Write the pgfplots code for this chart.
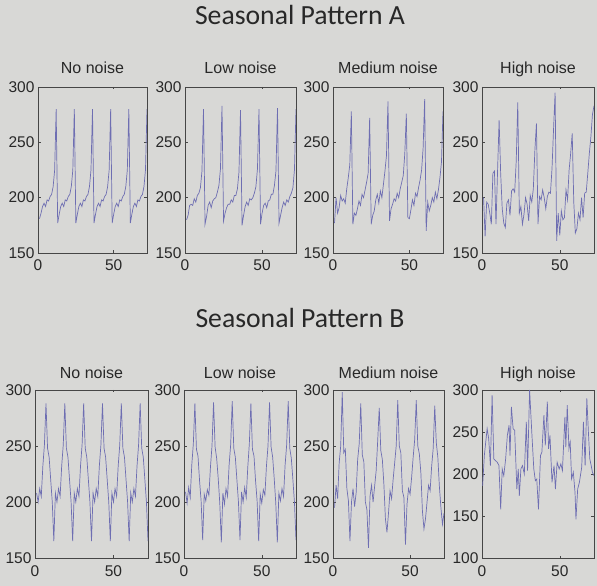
\documentclass[border=0pt]{standalone}
\usepackage{pgfplots}
\pgfplotsset{compat=1.18}
\usepackage{fontspec}
\setmainfont{Liberation Sans}
\newfontfamily\titlefont{Carlito}
\definecolor{bg}{RGB}{216,216,214}
\definecolor{ln}{RGB}{110,110,178}
\definecolor{fr}{RGB}{70,70,70}
\definecolor{tx}{RGB}{40,40,40}
\pgfplotsset{
  every axis title shift=0pt,
  panel/.style={
    scale only axis, width=110bp, height=166bp,
    xmin=0, xmax=72, ymin=150, ymax=300,
    xtick={0,50}, ytick={150,200,250,300},
    tick align=inside, xtick pos=both, ytick pos=both,
    xticklabel pos=lower, yticklabel pos=left,
    major tick length=2.5bp,
    axis line style={fr, line width=0.6bp},
    every tick/.style={fr, line width=0.5bp},
    tick label style={font=\fontsize{15.5bp}{17bp}\selectfont, text=tx},
    /pgf/number format/assume math mode=true,
    title style={font=\fontsize{16bp}{18bp}\selectfont, text=tx, at={(0.5,1)}, anchor=base, yshift=13.5bp},
    xticklabel style={yshift=-3bp},
    anchor=south west,
  },
  brow/.style={height=168bp, title style={yshift=-2bp}, xticklabel style={yshift=-1bp}},
  ser/.style={color=ln, line width=0.7bp, mark=none},
  /pgfplots/table/tab/.style={x expr=\coordindex+1, y index=0, header=false, row sep=\\},
}
\begin{document}
\begin{tikzpicture}
\fill[bg] (0,0) rectangle (597bp,586bp);
\node[font=\titlefont\fontsize{27.7bp}{30bp}\selectfont, text=tx, anchor=base] at (300bp,561bp) {Seasonal Pattern A};
\node[font=\titlefont\fontsize{27.7bp}{30bp}\selectfont, text=tx, anchor=base] at (300bp,258bp) {Seasonal Pattern B};

% ---------- Pattern A ----------
\begin{axis}[panel, at={(38bp,333bp)}, width=109bp, title={No noise}]
\addplot[ser] table[tab] {
181\\186\\192\\195\\192\\198\\197\\201\\203\\210\\225\\280\\
177\\185\\192\\195\\192\\198\\197\\201\\203\\210\\225\\280\\
177\\185\\192\\195\\192\\198\\197\\201\\203\\210\\225\\280\\
177\\185\\192\\195\\192\\198\\197\\201\\203\\210\\225\\280\\
177\\185\\192\\195\\192\\198\\197\\201\\203\\210\\225\\280\\
177\\185\\192\\195\\192\\198\\197\\201\\203\\210\\225\\280\\
};
\end{axis}

\begin{axis}[panel, at={(185bp,333bp)}, width=111bp, title={Low noise}]
\addplot[ser] table[tab] {
180\\184\\193\\194\\193\\199\\196\\202\\204\\209\\224\\280\\
176\\183\\193\\196\\191\\197\\199\\200\\205\\211\\226\\283\\
179\\186\\191\\194\\194\\198\\196\\202\\202\\208\\223\\279\\
175\\184\\192\\196\\193\\199\\198\\200\\204\\210\\226\\280\\
176\\186\\193\\195\\191\\197\\198\\203\\203\\211\\224\\281\\
177\\184\\191\\196\\193\\198\\196\\201\\204\\209\\225\\280\\
};
\end{axis}

\begin{axis}[panel, at={(333bp,333bp)}, width=110bp, title={Medium noise}]
\addplot[ser] table[tab] {
177\\200\\186\\191\\202\\197\\199\\195\\208\\218\\230\\278\\
176\\186\\184\\190\\197\\193\\203\\200\\207\\214\\222\\272\\
176\\184\\188\\198\\203\\195\\206\\200\\212\\224\\238\\287\\
179\\190\\194\\199\\197\\204\\200\\208\\214\\220\\240\\276\\
182\\181\\189\\198\\193\\204\\201\\209\\216\\225\\245\\289\\
170\\196\\188\\193\\200\\196\\205\\199\\207\\218\\232\\278\\
};
\end{axis}

\begin{axis}[panel, at={(482bp,333bp)}, width=112bp, title={High noise}]
\addplot[ser] table[tab] {
200\\165\\196\\194\\186\\176\\222\\224\\176\\224\\270\\222\\
190\\177\\173\\195\\198\\184\\206\\208\\205\\233\\286\\186\\
192\\176\\185\\200\\194\\179\\202\\196\\208\\243\\267\\176\\
201\\198\\207\\200\\190\\201\\205\\204\\226\\262\\295\\161\\
186\\166\\188\\180\\182\\207\\198\\225\\240\\258\\196\\168\\
172\\186\\180\\200\\182\\204\\205\\222\\240\\255\\275\\283\\
};
\end{axis}

% ---------- Pattern B ----------
\begin{axis}[panel, brow, at={(35bp,28bp)}, width=113bp, title={No noise}]
\addplot[ser] table[tab] {
208\\200\\212\\205\\232\\251\\288\\248\\240\\220\\200\\165\\
208\\200\\212\\205\\232\\251\\288\\248\\240\\220\\200\\165\\
208\\200\\212\\205\\232\\251\\288\\248\\240\\220\\200\\165\\
208\\200\\212\\205\\232\\251\\288\\248\\240\\220\\200\\165\\
208\\200\\212\\205\\232\\251\\288\\248\\240\\220\\200\\165\\
208\\200\\212\\205\\232\\251\\288\\248\\240\\220\\200\\165\\
};
\end{axis}

\begin{axis}[panel, brow, at={(184bp,28bp)}, width=112bp, title={Low noise}]
\addplot[ser] table[tab] {
209\\199\\213\\204\\233\\252\\288\\247\\241\\219\\201\\166\\
207\\201\\211\\206\\231\\250\\289\\249\\239\\221\\199\\164\\
208\\198\\212\\205\\233\\251\\290\\248\\240\\220\\200\\166\\
209\\200\\213\\204\\231\\252\\288\\247\\241\\219\\201\\165\\
207\\199\\211\\206\\232\\250\\289\\249\\240\\221\\199\\164\\
208\\201\\212\\205\\233\\251\\290\\248\\239\\220\\200\\166\\
};
\end{axis}

\begin{axis}[panel, brow, at={(333bp,28bp)}, width=111bp, title={Medium noise}]
\addplot[ser] table[tab] {
195\\215\\203\\235\\250\\298\\244\\247\\212\\201\\165\\200\\
212\\196\\208\\238\\252\\288\\242\\236\\200\\193\\159\\205\\
215\\200\\214\\228\\255\\284\\246\\238\\216\\185\\173\\190\\
210\\203\\220\\235\\250\\291\\250\\244\\210\\204\\162\\198\\
212\\207\\222\\240\\256\\291\\250\\243\\226\\192\\176\\185\\
200\\215\\210\\232\\248\\286\\253\\240\\214\\195\\180\\190\\
};
\end{axis}

\begin{axis}[panel, brow, at={(482bp,28bp)}, width=112bp, title={High noise},
  ymin=100, ytick={100,150,200,250,300}]
\addplot[ser] coordinates {
(0.4,186)(1.5,222)(3.3,254)(4.3,242)(5.4,210)(6.5,294)(7.6,218)(8.7,216)
(9.8,214)(10.9,210)(12,158)(13,206)(14,198)(15.2,218)(16.3,246)(17.4,258)
(18,222)(18.9,280)(20,254)(21,252)(22.4,182)(23.3,206)(24,174)(25,206)
(26,210)(27.2,200)(28.5,262)(29.3,204)(30.6,300)(32,250)(33.3,206)(34.3,192)
(35.2,194)(36.3,158)(37.6,222)(38.5,226)(39.8,270)(40.7,234)(42,286)(42.8,230)
(43.7,246)(45,190)(46.3,210)(47.2,182)(48.3,214)(49.6,206)(50.7,212)(51.7,204)
(53.3,268)(53.9,232)(54.8,282)(55.9,230)(56.7,238)(57.6,194)(58.7,202)(59.8,178)
(60.4,146)(61.5,182)(62.6,190)(64.1,208)(65.2,262)(66.3,210)(67.4,290)(68.5,246)
(69.3,218)(70.2,210)(71,202)(72,198)
};
\end{axis}
\pgfresetboundingbox
\useasboundingbox (0,0) rectangle (597bp,586bp);
\end{tikzpicture}
\end{document}
